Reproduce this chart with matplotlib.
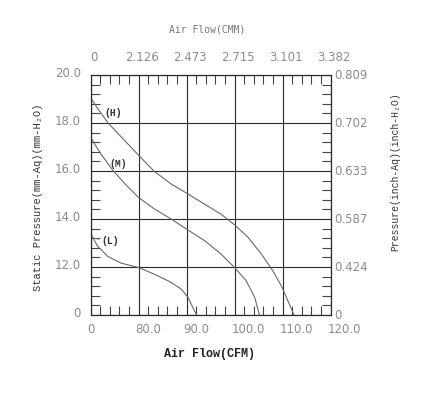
import matplotlib
matplotlib.use("Agg")
import matplotlib.pyplot as plt
from matplotlib.ticker import MultipleLocator, FixedLocator
from matplotlib.transforms import ScaledTranslation

# tick labels (chart uses evenly spaced grid with uneven labels)
cfm_labels = ["0", "80.0", "90.0", "100.0", "110.0", "120.0"]
cmm_labels = ["0", "2.126", "2.473", "2.715", "3.101", "3.382"]
mm_labels = ["0", "12.0", "14.0", "16.0", "18.0", "20.0"]
inch_labels = ["0", "0.424", "0.587", "0.633", "0.702", "0.809"]

# curves, in grid units (one unit = one grid cell)
h_x = [0.0, 0.15, 0.375, 0.64, 1.0, 1.33, 1.68, 2.0, 2.375, 2.72, 3.0, 3.28, 3.56, 3.8, 3.99, 4.11, 4.24]
h_y = [4.53, 4.30, 3.99, 3.71, 3.33, 2.99, 2.73, 2.54, 2.31, 2.10, 1.88, 1.62, 1.27, 0.92, 0.58, 0.30, 0.0]
m_x = [0.0, 0.22, 0.47, 0.71, 1.0, 1.33, 1.68, 2.0, 2.375, 2.72, 3.0, 3.24, 3.42, 3.52]
m_y = [3.70, 3.35, 3.01, 2.74, 2.45, 2.21, 2.0, 1.79, 1.55, 1.27, 0.99, 0.72, 0.37, 0.0]
l_x = [0.0, 0.15, 0.36, 0.64, 1.0, 1.33, 1.68, 1.89, 2.03, 2.13, 2.21]
l_y = [1.70, 1.43, 1.22, 1.08, 0.99, 0.85, 0.68, 0.54, 0.37, 0.16, 0.0]

W, H = 432, 396
fig = plt.figure(figsize=(W / 100, H / 100), dpi=100)
ax = fig.add_axes([90.5 / W, 1 - 315 / H, 240 / W, 240 / H])
ax.set_xlim(0, 5)
ax.set_ylim(0, 5)

line_col = "#6a6a6a"
for xs, ys in [(h_x, h_y), (m_x, m_y), (l_x, l_y)]:
    ax.plot(xs, ys, color=line_col, lw=0.8, solid_joinstyle="round")

lab_font = dict(family=["Liberation Mono", "DejaVu Sans Mono"], fontsize=7, weight="bold", color="#333333")
ax.text(0.28, 4.20, "(H)", va="center", ha="left", **lab_font)
ax.text(0.40, 3.15, "(M)", va="center", ha="left", **lab_font)
ax.annotate("(L)", xy=(0.05, 1.60), xytext=(0.23, 1.55), va="center", ha="left",
            arrowprops=dict(arrowstyle="-", color=line_col, lw=0.7, shrinkA=0, shrinkB=0), **lab_font)

# grid
ax.xaxis.set_major_locator(FixedLocator(range(6)))
ax.yaxis.set_major_locator(FixedLocator(range(6)))
ax.grid(which="major", color="#2a2a2a", lw=0.8)
for s in ax.spines.values():
    s.set_color("#2a2a2a")
    s.set_linewidth(0.9)

ax.xaxis.set_minor_locator(MultipleLocator(0.2))
ax.yaxis.set_minor_locator(MultipleLocator(0.2))
ax.tick_params(which="minor", direction="in", length=6.5, width=0.8, color="#444444",
               top=True, right=True, bottom=True, left=True)
ax.tick_params(which="major", length=0)

tick_col = "#8c8c8c"
tick_font = ["DejaVu Sans"]


def shift(labels, dx, dy):
    off = ScaledTranslation(dx / 100, dy / 100, fig.dpi_scale_trans)
    for t in labels:
        t.set_transform(t.get_transform() + off)


ax.set_xticks(range(6))
ax.set_xticklabels(cfm_labels, ha="left", fontsize=8.5, color=tick_col, family=tick_font)
ax.tick_params(axis="x", which="major", pad=6)
shift(ax.get_xticklabels(), -3, 0)

ax.set_yticks(range(6))
ax.set_yticklabels(mm_labels, fontsize=8.5, color=tick_col, family=tick_font)
ax.tick_params(axis="y", which="major", pad=7)
shift(ax.get_yticklabels(), 0, 3)

sx = ax.secondary_xaxis("top")
sx.set_xticks(range(6))
sx.set_xticklabels(cmm_labels, fontsize=8.5, color=tick_col, family=tick_font)
sx.tick_params(length=0, pad=8)
sx.spines["top"].set_visible(False)
shift(sx.get_xticklabels(), 3, 0)

sy = ax.secondary_yaxis("right")
sy.set_yticks(range(6))
sy.set_yticklabels(inch_labels, fontsize=8.5, color=tick_col, family=tick_font)
sy.tick_params(length=0, pad=3)
sy.spines["right"].set_visible(False)
shift(sy.get_yticklabels(), 0, 1)

# axis titles
mono = ["Liberation Mono", "DejaVu Sans Mono"]
fig.text(209 / W, 1 - 354 / H, "Air Flow(CFM)", ha="center", va="center",
         family=mono, fontsize=8.5, weight="bold", color="#222222")
fig.text(207 / W, 1 - 30 / H, "Air Flow(CMM)", ha="center", va="center",
         family=["DejaVu Sans Mono"], fontsize=7, color="#777777")
fig.text(38 / W, 1 - 197 / H, "Static Pressure(mm-Aq)(mm-H\u2082O)", ha="center", va="center",
         rotation=90, family=mono, fontsize=7.5, color="#333333")
fig.text(395 / W, 1 - 172 / H, "Pressure(inch-Aq)(inch-H\u2082O)", ha="center", va="center",
         rotation=90, family=mono, fontsize=7, color="#333333")

fig.savefig("out.png", dpi=100)
